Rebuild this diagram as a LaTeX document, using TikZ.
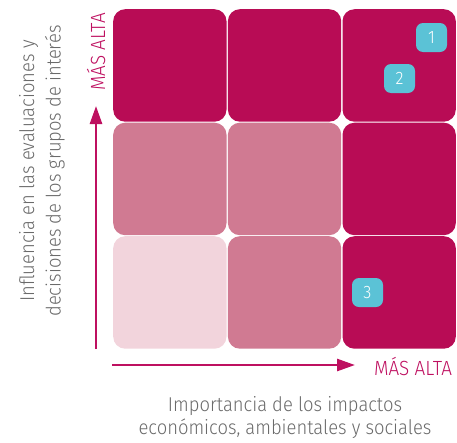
\documentclass[tikz,border=0pt]{standalone}
\usepackage{fontspec}
\setmainfont{Fira Sans}[UprightFont={* Light}, FakeStretch=0.92]
\usetikzlibrary{arrows.meta}
\definecolor{dark}{HTML}{B80C55}
\definecolor{med}{HTML}{D07A92}
\definecolor{light}{HTML}{F2D4DC}
\definecolor{badge}{HTML}{5BC2D6}
\definecolor{txtgray}{HTML}{6A6A6A}
\definecolor{axis}{HTML}{BE1060}
\tikzset{
  cell/.style={anchor=north west, minimum width=113.3pt, minimum height=112.5pt, rounded corners=12pt, inner sep=0pt, draw=none},
  badgebox/.style={fill=badge, minimum width=31pt, minimum height=29pt, rounded corners=7pt, inner sep=0pt, text=white, font=\fontsize{18}{18}\selectfont},
  axisline/.style={draw=axis, line width=2.6pt, -{Triangle[length=18pt,width=12pt]}},
  axislabel/.style={text=axis, font=\fontsize{20.5}{20.5}\selectfont, inner sep=0pt},
  graylabel/.style={text=txtgray, inner sep=0pt, align=center}
}
\begin{document}
\begin{tikzpicture}[x=1pt,y=-1pt]
\useasboundingbox (0,0) rectangle (457,442);
% grid cells
\node[cell, fill=dark]  (c11) at (113,9) {};
\node[cell, fill=dark]  (c12) at (227.7,9) {};
\node[cell, fill=dark]  (c13) at (342.3,9) {};
\node[cell, fill=med]   (c21) at (113,122.5) {};
\node[cell, fill=med]   (c22) at (227.7,122.5) {};
\node[cell, fill=dark]  (c23) at (342.3,122.5) {};
\node[cell, fill=light] (c31) at (113,236) {};
\node[cell, fill=med]   (c32) at (227.7,236) {};
\node[cell, fill=dark]  (c33) at (342.3,236) {};
% badges
\node[badgebox] (b1) at (431.5,37.5) {1};
\node[badgebox] (b2) at (399.5,78.5) {2};
\node[badgebox] (b3) at (367.5,292.5) {3};
% axes
\coordinate (yS) at (96,349);
\coordinate (yE) at (96,106);
\draw[axisline] (yS) -- (yE);
\coordinate (xS) at (112,365);
\coordinate (xE) at (355,365);
\draw[axisline] (xS) -- (xE);
% axis labels
\node[axislabel, rotate=90, anchor=base] (ylab) at (105,52) {MÁS ALTA};
\node[axislabel, anchor=base] (xlab) at (413,375) {MÁS ALTA};
\node[graylabel, rotate=90, font=\fontsize{20}{26.5}\selectfont] (ytitle) at (42,171) {Influencia en las evaluaciones y\\decisiones de los grupos de interés};
\node[graylabel, font=\fontsize{20}{23}\selectfont] (xtitle) at (285,418) {Importancia de los impactos\\económicos, ambientales y sociales};
\end{tikzpicture}
\end{document}
